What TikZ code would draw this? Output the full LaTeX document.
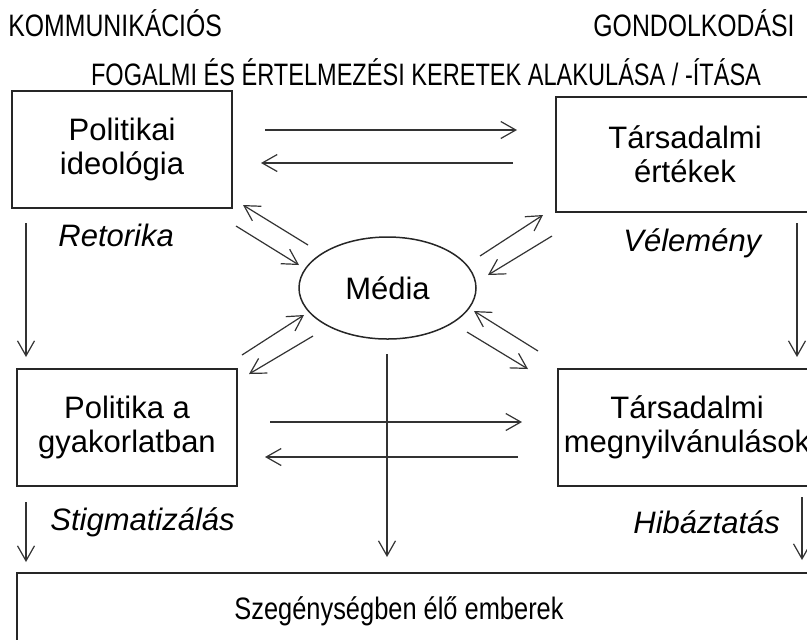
\documentclass[tikz,border=0pt]{standalone}
\usepackage{fontspec}
\setmainfont{Liberation Sans}
\usetikzlibrary{arrows.meta,shapes.geometric}

\newcommand{\narrowtxt}[2][0.8]{\scalebox{#1}[1]{#2}}

\tikzset{
  box/.style={draw=black!85, line width=0.75pt, align=center, inner sep=0pt},
  arr/.style={-{Straight Barb[length=7.5pt,width=8.5pt]}, line width=0.6pt, draw=black!80},
  boxtext/.style={font=\fontsize{15.5}{17}\selectfont},
  headtext/.style={font=\fontsize{15.5}{17}\selectfont, inner sep=0pt},
  labeltext/.style={font=\fontsize{15.5}{17}\selectfont\itshape, inner sep=0pt}
}

\begin{document}
\begin{tikzpicture}[x=0.5pt,y=-0.5pt]
  \useasboundingbox (0,0) rectangle (807,639);
  \clip (0,0) rectangle (807,639);

  % headings
  \node[headtext, anchor=base west] (komm) at (8,36) {\narrowtxt{KOMMUNIKÁCIÓS}};
  \node[headtext, anchor=base east] (gond) at (795,36) {\narrowtxt{GONDOLKODÁSI}};
  \node[headtext, anchor=base] (fogalmi) at (426,85) {\narrowtxt[0.76]{FOGALMI ÉS ÉRTELMEZÉSI KERETEK ALAKULÁSA / -ÍTÁSA}};

  % boxes
  \node[box, boxtext, minimum width=110pt, minimum height=58.5pt] (ideo) at (122,149.5) {Politikai\\ideológia};
  \node[box, boxtext, minimum width=129pt, minimum height=57.5pt] (ertek) at (685,154.5) {Társadalmi\\értékek};
  \node[box, boxtext, minimum width=110pt, minimum height=58.5pt] (gyak) at (127,427.5) {Politika a\\gyakorlatban};
  \node[box, boxtext, minimum width=129pt, minimum height=58.5pt] (megny) at (687,427.5) {Társadalmi\\megnyilvánulások};
  \node[draw=black!85, line width=0.75pt, ellipse, boxtext, minimum width=88.5pt, minimum height=51pt] (media) at (387.5,288) {Média};
  \draw[draw=black!85, line width=0.75pt] (17,573) rectangle (830,660);
  \node[headtext, anchor=base] (poor) at (399,619) {\narrowtxt[0.82]{Szegénységben élő emberek}};

  % labels
  \node[labeltext, anchor=base west] (retor) at (58,246) {Retorika};
  \node[labeltext, anchor=base west] (velem) at (623,251) {Vélemény};
  \node[labeltext, anchor=base west] (stigma) at (50,530) {Stigmatizálás};
  \node[labeltext, anchor=base west] (hibaz) at (633,533) {Hibáztatás};

  % arrow ends
  \coordinate (h1a) at (265,130); \coordinate (h1b) at (517,130);
  \coordinate (h2a) at (513,163); \coordinate (h2b) at (261,163);
  \coordinate (h3a) at (270,422); \coordinate (h3b) at (522,422);
  \coordinate (h4a) at (518,457); \coordinate (h4b) at (265,457);
  \coordinate (v1a) at (26,223);  \coordinate (v1b) at (26,357);
  \coordinate (v2a) at (797,223); \coordinate (v2b) at (797,357);
  \coordinate (v3a) at (26,502);  \coordinate (v3b) at (26,562);
  \coordinate (v4a) at (802,497); \coordinate (v4b) at (802,560);
  \coordinate (v5a) at (387,354); \coordinate (v5b) at (387,557);
  \coordinate (da1) at (308,245); \coordinate (da2) at (243,205);
  \coordinate (db1) at (236,226); \coordinate (db2) at (299,265);
  \coordinate (dc1) at (480,256); \coordinate (dc2) at (543,215);
  \coordinate (dd1) at (552,236); \coordinate (dd2) at (488,275);
  \coordinate (de1) at (242,355); \coordinate (de2) at (304,315);
  \coordinate (df1) at (313,336); \coordinate (df2) at (249,374);
  \coordinate (dg1) at (538,351); \coordinate (dg2) at (474,311);
  \coordinate (dh1) at (467,332); \coordinate (dh2) at (528,369);

  % arrows
  \draw[arr] (h1a) -- (h1b);
  \draw[arr] (h2a) -- (h2b);
  \draw[arr] (h3a) -- (h3b);
  \draw[arr] (h4a) -- (h4b);
  \draw[arr] (v1a) -- (v1b);
  \draw[arr] (v2a) -- (v2b);
  \draw[arr] (v3a) -- (v3b);
  \draw[arr] (v4a) -- (v4b);
  \draw[arr] (v5a) -- (v5b);
  \draw[arr] (da1) -- (da2);
  \draw[arr] (db1) -- (db2);
  \draw[arr] (dc1) -- (dc2);
  \draw[arr] (dd1) -- (dd2);
  \draw[arr] (de1) -- (de2);
  \draw[arr] (df1) -- (df2);
  \draw[arr] (dg1) -- (dg2);
  \draw[arr] (dh1) -- (dh2);
\end{tikzpicture}
\end{document}
